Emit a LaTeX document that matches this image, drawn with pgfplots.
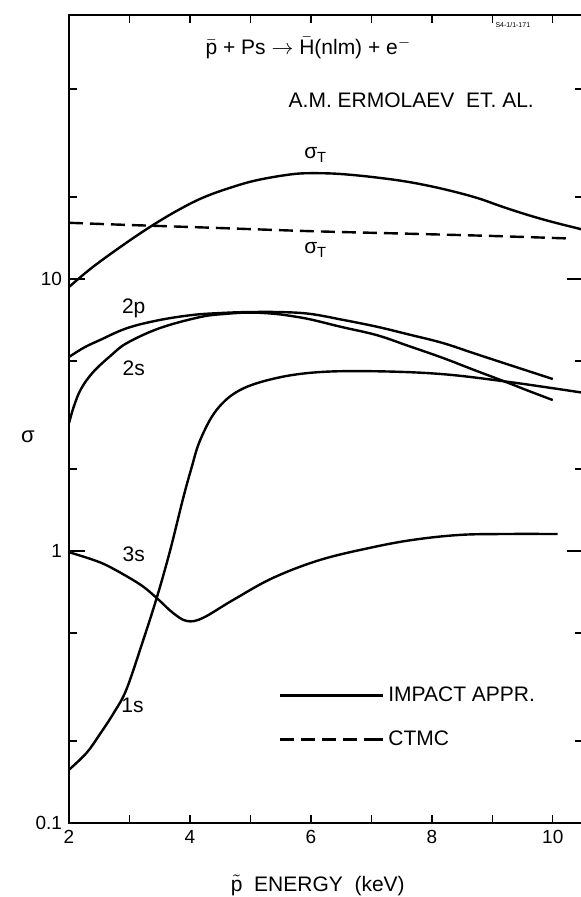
\documentclass[border=0pt]{standalone}
\usepackage{fontspec}
\setmainfont{Liberation Sans}
\usepackage{pgfplots}
\pgfplotsset{compat=1.18}
\begin{document}
\begin{tikzpicture}
\begin{axis}[
  at={(0,0)}, anchor=south west,
  scale only axis, width=257pt, height=404pt,
  xmin=2, xmax=10.5, ymin=0.1, ymax=93.5, ymode=log,
  axis line style={line width=0.9pt},
  xtick={2,4,6,8,10}, xticklabels={2,4,6,8,10},
  minor xtick={3,4,5,6,7,8,9,10},
  major x tick style={draw=none},
  ytick={0.1,1,10}, yticklabels={0.1,1,10},
  minor ytick={0.2,0.5,2,5,20,50},
  major tick length=8pt, minor tick length=4pt,
  tick style={line width=0.7pt, black},
  ticklabel style={font=\fontsize{9.5}{11}\selectfont},
  /pgf/number format/assume math mode=true,
  xlabel={$\tilde{\hbox{p}}$\ \ ENERGY\ \ (keV)},
  xlabel style={at={(axis description cs:0.484,-0.0767)}, anchor=center, font=\fontsize{10.5}{12}\selectfont},
  ylabel={σ},
  ylabel style={at={(axis description cs:-0.08,0.478)}, anchor=center, rotate=-90, font=\fontsize{11}{12}\selectfont},
  legend style={draw=none, fill=none, at={(axis description cs:0.396,0.1306)}, anchor=west, row sep=9pt, font=\fontsize{10.5}{12}\selectfont},
  legend cell align=left,
  legend image code/.code={\draw[#1] (0pt,0pt) -- (45pt,0pt); \path (45pt,0pt) -- (51.5pt,0pt);},
  cycle list={{black,solid,mark=none}},
]
% sigma_T impact
\addplot[black, line width=1.2pt, smooth, tension=0.6] coordinates {(2.00,9.35) (2.40,11.1) (2.95,13.6) (3.39,15.8) (3.80,17.9) (4.21,19.9) (4.65,21.6) (5.11,23.1) (5.70,24.3) (6.10,24.5) (6.53,24.3) (7.10,23.6) (7.64,22.7) (8.20,21.4) (8.74,19.9) (9.15,18.5) (9.57,17.25) (10.00,16.2) (10.55,15.1)};
\addlegendentry{IMPACT APPR.}
% sigma_T CTMC
\addplot[black, line width=1.2pt, smooth, tension=0.6, dash pattern=on 7pt off 3.5pt] coordinates {(2.00,16.1) (3.00,15.8) (3.39,15.7) (4.50,15.4) (5.98,15.0) (7.50,14.7) (9.00,14.4) (10.25,14.1)};
\addlegendentry{CTMC}
% 2p
\addplot[black, line width=1.2pt, smooth, tension=0.6] coordinates {(2.00,5.17) (2.25,5.6) (2.50,5.95) (2.96,6.6) (3.50,7.07) (4.05,7.38) (4.50,7.50) (4.94,7.56) (5.50,7.56) (5.98,7.45) (6.50,7.1) (7.09,6.68) (7.60,6.27) (8.18,5.82) (8.70,5.33) (9.30,4.82) (10.00,4.29)};
% 2s
\addplot[black, line width=1.2pt, smooth, tension=0.6] coordinates {(2.00,2.95) (2.08,3.4) (2.20,3.95) (2.40,4.55) (2.70,5.25) (2.96,5.82) (3.50,6.6) (4.17,7.25) (4.60,7.45) (5.00,7.53) (5.40,7.45) (5.70,7.3) (6.00,7.1) (6.50,6.67) (7.09,6.22) (7.60,5.69) (8.18,5.13) (8.70,4.63) (9.24,4.17) (9.60,3.88) (10.00,3.59)};
% 1s
\addplot[black, line width=1.2pt, smooth, tension=0.6] coordinates {(2.00,0.157) (2.29,0.181) (2.51,0.212) (2.75,0.256) (2.95,0.31) (3.22,0.465) (3.45,0.672) (3.67,1.00) (3.88,1.54) (4.02,2.0) (4.17,2.56) (4.44,3.3) (4.83,3.91) (5.44,4.33) (6.15,4.55) (7.09,4.58) (8.18,4.47) (9.29,4.18) (10.50,3.82)};
% 3s
\addplot[black, line width=1.2pt, smooth, tension=0.6] coordinates {(2.00,0.99) (2.40,0.928) (2.68,0.873) (3.17,0.755) (3.45,0.672) (3.72,0.592) (3.95,0.553) (4.21,0.567) (4.71,0.66) (5.37,0.796) (6.15,0.927) (7.00,1.03) (7.70,1.10) (8.46,1.146) (9.20,1.155) (10.08,1.155)};
\begin{scope}[font=\fontsize{10.5}{12}\selectfont]
\node at (axis cs:6.08,28.6) {σ\textsubscript{T}};
\node at (axis cs:6.08,12.8) {σ\textsubscript{T}};
\node at (axis cs:3.07,7.8) {2p};
\node at (axis cs:3.07,4.7) {2s};
\node at (axis cs:3.07,0.975) {3s};
\node at (axis cs:3.05,0.271) {1s};
\node at (axis cs:5.96,70.7) {$\bar{\hbox{p}}$ + Ps $\rightarrow$ $\bar{\hbox{H}}$(nlm) + e\textsuperscript{$-$}};
\node at (axis cs:7.66,45.5) {A.M. ERMOLAEV\ \ ET.\ AL.};
\node[font=\fontsize{3.5}{4}\selectfont] at (axis cs:9.34,85.9) {S4-1/1-171};
\node at (axis description cs:-0.068,0.959) {x10\textsuperscript{16}};
\end{scope}
\end{axis}
\pgfresetboundingbox
\path (-34.5pt,-37pt) rectangle (255.5pt,411.5pt);
\end{tikzpicture}
\end{document}
